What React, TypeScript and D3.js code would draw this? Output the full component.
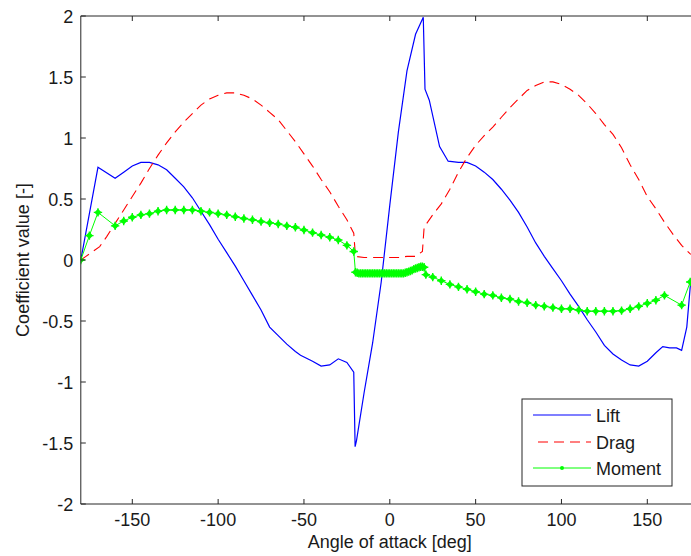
import React from "react";
import * as d3 from "d3";

// ---- data ----
const liftAngles = [-180, -170, -160, -155, -150, -145, -140, -135, -130, -125, -120, -115, -110, -105, -100, -95, -90, -85, -80, -75, -70, -65, -60, -55, -52, -45, -40, -35, -30, -25, -21, -20.2, -19.4, -15, -10, -5, 0, 5, 10, 15, 19.5, 20.5, 23, 29, 34, 40, 45, 50, 55, 60, 65, 70, 75, 80, 85, 90, 95, 100, 105, 110, 115, 120, 125, 130, 135, 140, 145, 150, 155, 159, 163, 167, 170, 173, 175, 180];
const liftValues = [0, 0.76, 0.67, 0.72, 0.77, 0.80, 0.80, 0.78, 0.74, 0.67, 0.60, 0.51, 0.40, 0.29, 0.17, 0.06, -0.05, -0.17, -0.29, -0.41, -0.55, -0.62, -0.69, -0.75, -0.78, -0.83, -0.87, -0.86, -0.81, -0.84, -0.92, -1.53, -1.48, -1.09, -0.68, -0.18, 0.45, 1.05, 1.55, 1.85, 1.99, 1.40, 1.31, 0.93, 0.81, 0.80, 0.80, 0.77, 0.72, 0.66, 0.58, 0.49, 0.39, 0.27, 0.14, 0.03, -0.07, -0.17, -0.28, -0.38, -0.49, -0.59, -0.70, -0.77, -0.82, -0.86, -0.87, -0.83, -0.76, -0.71, -0.72, -0.72, -0.74, -0.55, -0.22, 0];

const dragAngles = [-180, -177, -169, -165, -160, -155, -150, -145, -140, -135, -130, -125, -120, -115, -110, -105, -100, -95, -90, -85, -80, -75, -70, -65, -60, -55, -50, -45, -40, -35, -30, -25, -21, -20, -15, -10, -5, 0, 5, 10, 15, 19, 20, 25, 30, 35, 40, 45, 50, 55, 60, 65, 70, 75, 80, 85, 90, 95, 100, 105, 110, 115, 120, 125, 130, 135, 140, 145, 150, 155, 160, 165, 170, 175, 180];
const dragValues = [0, 0.03, 0.11, 0.19, 0.30, 0.41, 0.52, 0.63, 0.75, 0.86, 0.96, 1.05, 1.13, 1.20, 1.27, 1.32, 1.35, 1.37, 1.37, 1.35, 1.32, 1.27, 1.21, 1.15, 1.06, 0.97, 0.87, 0.77, 0.66, 0.56, 0.44, 0.33, 0.22, 0.03, 0.02, 0.02, 0.02, 0.02, 0.02, 0.03, 0.03, 0.07, 0.27, 0.37, 0.46, 0.58, 0.72, 0.84, 0.94, 1.02, 1.09, 1.17, 1.25, 1.32, 1.39, 1.43, 1.46, 1.46, 1.44, 1.40, 1.35, 1.28, 1.20, 1.11, 1.03, 0.92, 0.78, 0.66, 0.52, 0.42, 0.31, 0.21, 0.12, 0.05, 0.02];

const momentAngles = [-180, -175, -170, -160, -155, -150, -145, -140, -135, -130, -125, -120, -115, -110, -105, -100, -95, -90, -85, -80, -75, -70, -65, -60, -55, -50, -45, -40, -35, -30, -25, -21, -20, -19, -18, -17, -16, -15, -14, -13, -12, -11, -10, -9, -8, -7, -6, -5, -4, -3, -2, -1, 0, 1, 2, 3, 4, 5, 6, 7, 8, 9, 10, 11, 12, 13, 14, 15, 16, 17, 18, 19, 20, 21, 25, 30, 35, 40, 45, 50, 55, 60, 65, 70, 75, 80, 85, 90, 95, 100, 105, 110, 115, 120, 125, 130, 135, 140, 145, 150, 155, 160, 170, 175, 180];
const momentValues = [0, 0.20, 0.39, 0.28, 0.32, 0.35, 0.37, 0.38, 0.40, 0.41, 0.41, 0.41, 0.41, 0.40, 0.39, 0.38, 0.37, 0.355, 0.34, 0.33, 0.315, 0.305, 0.295, 0.28, 0.268, 0.246, 0.224, 0.205, 0.186, 0.164, 0.12, 0.07, -0.10, -0.105, -0.11, -0.11, -0.11, -0.11, -0.11, -0.11, -0.11, -0.11, -0.11, -0.11, -0.11, -0.11, -0.11, -0.11, -0.11, -0.11, -0.11, -0.11, -0.11, -0.11, -0.11, -0.11, -0.11, -0.11, -0.11, -0.11, -0.11, -0.105, -0.10, -0.095, -0.09, -0.085, -0.075, -0.07, -0.065, -0.06, -0.055, -0.055, -0.06, -0.12, -0.14, -0.17, -0.20, -0.22, -0.24, -0.26, -0.28, -0.29, -0.31, -0.32, -0.34, -0.35, -0.37, -0.38, -0.39, -0.40, -0.40, -0.41, -0.42, -0.42, -0.42, -0.42, -0.415, -0.40, -0.38, -0.355, -0.33, -0.29, -0.37, -0.18, 0];

const xTicks = [-150, -100, -50, 0, 50, 100, 150];
const yTicks = [-2, -1.5, -1, -0.5, 0, 0.5, 1, 1.5, 2];
const seriesNames = ["Lift", "Drag", "Moment"];

// ---- layout ----
const W = 691;
const H = 556;
const L = 80.8;
const R = 698.8;
const T = 16;
const B = 504;

const FONT = "'Liberation Sans', Arial, Helvetica, sans-serif";

export default function App() {
  const x = d3.scaleLinear().domain([-180, 180]).range([L, R]);
  const y = d3.scaleLinear().domain([-2, 2]).range([B, T]);
  const line = d3
    .line<[number, number]>()
    .x((d) => x(d[0]))
    .y((d) => y(d[1]));
  const lift = liftAngles.map((a, i) => [a, liftValues[i]] as [number, number]);
  const drag = dragAngles.map((a, i) => [a, dragValues[i]] as [number, number]);
  const moment = momentAngles.map((a, i) => [a, momentValues[i]] as [number, number]);

  const marker = (cx: number, cy: number, k: string) => (
    <g key={k} transform={`translate(${cx},${cy})`}>
      <path d="M0,-3.6L3.6,0L0,3.6L-3.6,0Z" fill="#00ff00" />
      <path d="M-4.2,0H4.2M0,-4.2V4.2" stroke="#00ff00" strokeWidth={1.4} />
    </g>
  );

  const tickLen = 5;
  const axisColor = "#262626";

  // legend
  const lgX = 522;
  const lgY = 399;
  const lgW = 150;
  const lgH = 87;
  const rowY = [415, 442, 468];

  return (
    <svg
      width={W}
      height={H}
      style={{ position: "absolute", left: 0, top: 0, background: "#fff" }}
      fontFamily={FONT}
    >
      <rect x={0} y={0} width={W} height={H} fill="#fff" />
      <defs>
        <clipPath id="plotclip">
          <rect x={L} y={T} width={R - L} height={B - T} />
        </clipPath>
      </defs>
      <g clipPath="url(#plotclip)">
        <path d={line(lift) || ""} fill="none" stroke="#0000ff" strokeWidth={1.2} />
        <path d={line(drag) || ""} fill="none" stroke="#ff0000" strokeWidth={1.1} strokeDasharray="10,6" />
        <path d={line(moment) || ""} fill="none" stroke="#00ff00" strokeWidth={1} />
        {moment.map((d, i) => marker(x(d[0]), y(d[1]), "m" + i))}
      </g>
      {/* axes */}
      <line x1={L} y1={T} x2={L} y2={B} stroke={axisColor} strokeWidth={1} />
      <line x1={L} y1={B} x2={R} y2={B} stroke={axisColor} strokeWidth={1} />
      <line x1={L} y1={T} x2={R} y2={T} stroke={axisColor} strokeWidth={1} />
      <line x1={R} y1={T} x2={R} y2={B} stroke={axisColor} strokeWidth={1} />
      {xTicks.map((t) => (
        <g key={"xt" + t}>
          <line x1={x(t)} x2={x(t)} y1={B} y2={B - tickLen} stroke={axisColor} />
          <line x1={x(t)} x2={x(t)} y1={T} y2={T + tickLen} stroke={axisColor} />
          <text x={x(t)} y={B + 22} textAnchor="middle" fontSize={18} fill="#1a1a1a">
            {t}
          </text>
        </g>
      ))}
      {yTicks.map((t) => (
        <g key={"yt" + t}>
          <line x1={L} x2={L + tickLen} y1={y(t)} y2={y(t)} stroke={axisColor} />
          <line x1={R} x2={R - tickLen} y1={y(t)} y2={y(t)} stroke={axisColor} />
          <text x={L - 7.5} y={y(t) + 6.5} textAnchor="end" fontSize={18} fill="#1a1a1a">
            {t}
          </text>
        </g>
      ))}
      <text x={(L + R) / 2} y={548} textAnchor="middle" fontSize={18} fill="#1a1a1a">
        Angle of attack [deg]
      </text>
      <text
        transform={`translate(28.5,${(T + B) / 2}) rotate(-90)`}
        textAnchor="middle"
        fontSize={18}
        fill="#1a1a1a"
      >
        Coefficient value [-]
      </text>
      {/* legend */}
      <rect x={lgX} y={lgY} width={lgW} height={lgH} fill="#fff" stroke={axisColor} strokeWidth={1} />
      <line x1={533} x2={591} y1={rowY[0]} y2={rowY[0]} stroke="#0000ff" strokeWidth={1.2} />
      <line x1={538} x2={591} y1={rowY[1]} y2={rowY[1]} stroke="#ff0000" strokeWidth={1.1} strokeDasharray="10,6" />
      <line x1={533} x2={591} y1={rowY[2]} y2={rowY[2]} stroke="#00ff00" strokeWidth={1} />
      <circle cx={562} cy={rowY[2]} r={2} fill="#00ff00" />
      {seriesNames.map((n, i) => (
        <text key={n} x={596} y={rowY[i] + 7} fontSize={18} fill="#1a1a1a">
          {n}
        </text>
      ))}
    </svg>
  );
}
